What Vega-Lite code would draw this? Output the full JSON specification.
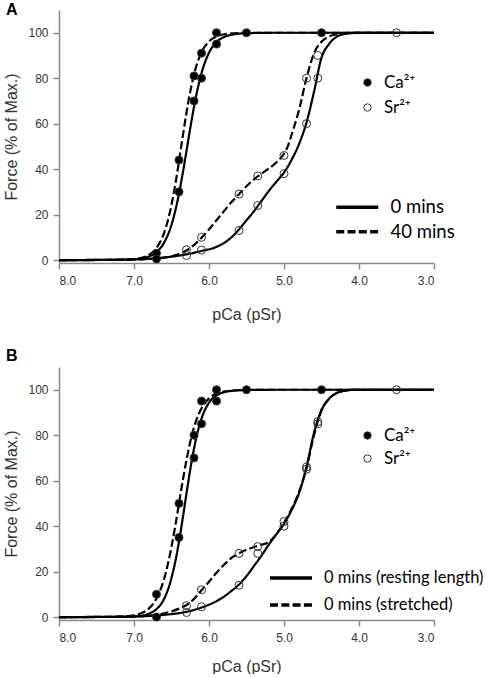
{
  "$schema": "https://vega.github.io/schema/vega-lite/v6.json",
  "background": "white",
  "padding": {"left": 3, "top": 2, "right": 0, "bottom": 0},
  "spacing": 26,
  "config": {
    "view": {"stroke": null},
    "axis": {
      "grid": false,
      "domainColor": "#8a8a8a",
      "domainWidth": 1.5,
      "tickColor": "#8a8a8a",
      "tickWidth": 1.5,
      "tickSize": 6,
      "labelFont": "Liberation Sans",
      "labelFontSize": 12,
      "labelColor": "#333333",
      "titleFont": "Liberation Sans",
      "titleFontSize": 16,
      "titleFontWeight": "normal",
      "titleColor": "#333333"
    },
    "axisX": {"labelPadding": 6, "titlePadding": 16},
    "axisY": {"labelPadding": 5, "titlePadding": 8},
    "legend": {"padding": 0, "titleLimit": 0}
  },
  "datasets": {
    "ptsA": [
      {"x": 6.7, "y": 3, "ion": "Ca²⁺"}, {"x": 6.7, "y": 0.5, "ion": "Ca²⁺"},
      {"x": 6.4, "y": 30, "ion": "Ca²⁺"}, {"x": 6.4, "y": 44, "ion": "Ca²⁺"},
      {"x": 6.2, "y": 70, "ion": "Ca²⁺"}, {"x": 6.2, "y": 81, "ion": "Ca²⁺"},
      {"x": 6.1, "y": 80, "ion": "Ca²⁺"}, {"x": 6.1, "y": 91, "ion": "Ca²⁺"},
      {"x": 5.9, "y": 95, "ion": "Ca²⁺"}, {"x": 5.9, "y": 100, "ion": "Ca²⁺"},
      {"x": 5.5, "y": 100, "ion": "Ca²⁺"}, {"x": 4.5, "y": 100, "ion": "Ca²⁺"},
      {"x": 6.3, "y": 4.5, "ion": "Sr²⁺"}, {"x": 6.3, "y": 2, "ion": "Sr²⁺"},
      {"x": 6.1, "y": 4.4, "ion": "Sr²⁺"}, {"x": 6.1, "y": 10, "ion": "Sr²⁺"},
      {"x": 5.6, "y": 29, "ion": "Sr²⁺"}, {"x": 5.6, "y": 13, "ion": "Sr²⁺"},
      {"x": 5.35, "y": 37, "ion": "Sr²⁺"}, {"x": 5.35, "y": 24, "ion": "Sr²⁺"},
      {"x": 5.0, "y": 46, "ion": "Sr²⁺"}, {"x": 5.0, "y": 38, "ion": "Sr²⁺"},
      {"x": 4.7, "y": 80, "ion": "Sr²⁺"}, {"x": 4.7, "y": 60, "ion": "Sr²⁺"},
      {"x": 4.55, "y": 90, "ion": "Sr²⁺"}, {"x": 4.55, "y": 80, "ion": "Sr²⁺"},
      {"x": 3.5, "y": 100, "ion": "Sr²⁺"}
    ],
    "curvesA": [
      {"x": 8.0, "y": 0, "ion": "Ca", "cond": "0 mins"},
      {"x": 7.5, "y": 0.01, "ion": "Ca", "cond": "0 mins"},
      {"x": 7.2, "y": 0.07, "ion": "Ca", "cond": "0 mins"},
      {"x": 7.0, "y": 0.33, "ion": "Ca", "cond": "0 mins"},
      {"x": 6.9, "y": 0.73, "ion": "Ca", "cond": "0 mins"},
      {"x": 6.8, "y": 1.6, "ion": "Ca", "cond": "0 mins"},
      {"x": 6.7, "y": 3.5, "ion": "Ca", "cond": "0 mins"},
      {"x": 6.6, "y": 7.6, "ion": "Ca", "cond": "0 mins"},
      {"x": 6.5, "y": 15.5, "ion": "Ca", "cond": "0 mins"},
      {"x": 6.45, "y": 21.6, "ion": "Ca", "cond": "0 mins"},
      {"x": 6.4, "y": 29.2, "ion": "Ca", "cond": "0 mins"},
      {"x": 6.35, "y": 38.2, "ion": "Ca", "cond": "0 mins"},
      {"x": 6.3, "y": 48, "ion": "Ca", "cond": "0 mins"},
      {"x": 6.25, "y": 58, "ion": "Ca", "cond": "0 mins"},
      {"x": 6.2, "y": 67.4, "ion": "Ca", "cond": "0 mins"},
      {"x": 6.15, "y": 75.5, "ion": "Ca", "cond": "0 mins"},
      {"x": 6.1, "y": 82.2, "ion": "Ca", "cond": "0 mins"},
      {"x": 6.0, "y": 91.2, "ion": "Ca", "cond": "0 mins"},
      {"x": 5.9, "y": 95.9, "ion": "Ca", "cond": "0 mins"},
      {"x": 5.8, "y": 98.1, "ion": "Ca", "cond": "0 mins"},
      {"x": 5.7, "y": 99.1, "ion": "Ca", "cond": "0 mins"},
      {"x": 5.6, "y": 99.6, "ion": "Ca", "cond": "0 mins"},
      {"x": 5.5, "y": 99.8, "ion": "Ca", "cond": "0 mins"},
      {"x": 5.0, "y": 100, "ion": "Ca", "cond": "0 mins"},
      {"x": 4.0, "y": 100, "ion": "Ca", "cond": "0 mins"},
      {"x": 3.0, "y": 100, "ion": "Ca", "cond": "0 mins"},
      {"x": 8.0, "y": 0, "ion": "Ca", "cond": "40 mins"},
      {"x": 7.5, "y": 0.01, "ion": "Ca", "cond": "40 mins"},
      {"x": 7.2, "y": 0.07, "ion": "Ca", "cond": "40 mins"},
      {"x": 7.0, "y": 0.4, "ion": "Ca", "cond": "40 mins"},
      {"x": 6.9, "y": 0.96, "ion": "Ca", "cond": "40 mins"},
      {"x": 6.8, "y": 2.3, "ion": "Ca", "cond": "40 mins"},
      {"x": 6.7, "y": 5.3, "ion": "Ca", "cond": "40 mins"},
      {"x": 6.6, "y": 11.8, "ion": "Ca", "cond": "40 mins"},
      {"x": 6.5, "y": 24.3, "ion": "Ca", "cond": "40 mins"},
      {"x": 6.45, "y": 33.2, "ion": "Ca", "cond": "40 mins"},
      {"x": 6.4, "y": 43.5, "ion": "Ca", "cond": "40 mins"},
      {"x": 6.35, "y": 54.4, "ion": "Ca", "cond": "40 mins"},
      {"x": 6.3, "y": 64.9, "ion": "Ca", "cond": "40 mins"},
      {"x": 6.25, "y": 74.1, "ion": "Ca", "cond": "40 mins"},
      {"x": 6.2, "y": 81.6, "ion": "Ca", "cond": "40 mins"},
      {"x": 6.15, "y": 87.3, "ion": "Ca", "cond": "40 mins"},
      {"x": 6.1, "y": 91.4, "ion": "Ca", "cond": "40 mins"},
      {"x": 6.0, "y": 96.2, "ion": "Ca", "cond": "40 mins"},
      {"x": 5.9, "y": 98.4, "ion": "Ca", "cond": "40 mins"},
      {"x": 5.8, "y": 99.3, "ion": "Ca", "cond": "40 mins"},
      {"x": 5.7, "y": 99.7, "ion": "Ca", "cond": "40 mins"},
      {"x": 5.6, "y": 99.9, "ion": "Ca", "cond": "40 mins"},
      {"x": 5.5, "y": 100, "ion": "Ca", "cond": "40 mins"},
      {"x": 5.0, "y": 100, "ion": "Ca", "cond": "40 mins"},
      {"x": 4.0, "y": 100, "ion": "Ca", "cond": "40 mins"},
      {"x": 3.0, "y": 100, "ion": "Ca", "cond": "40 mins"},
      {"x": 8.0, "y": 0, "ion": "Sr", "cond": "0 mins"},
      {"x": 7.5, "y": 0.05, "ion": "Sr", "cond": "0 mins"},
      {"x": 7.0, "y": 0.3, "ion": "Sr", "cond": "0 mins"},
      {"x": 6.7, "y": 0.8, "ion": "Sr", "cond": "0 mins"},
      {"x": 6.5, "y": 1.5, "ion": "Sr", "cond": "0 mins"},
      {"x": 6.3, "y": 2.5, "ion": "Sr", "cond": "0 mins"},
      {"x": 6.1, "y": 4, "ion": "Sr", "cond": "0 mins"},
      {"x": 5.9, "y": 5.8, "ion": "Sr", "cond": "0 mins"},
      {"x": 5.8, "y": 7.5, "ion": "Sr", "cond": "0 mins"},
      {"x": 5.7, "y": 10, "ion": "Sr", "cond": "0 mins"},
      {"x": 5.6, "y": 13.5, "ion": "Sr", "cond": "0 mins"},
      {"x": 5.5, "y": 17.5, "ion": "Sr", "cond": "0 mins"},
      {"x": 5.4, "y": 21.5, "ion": "Sr", "cond": "0 mins"},
      {"x": 5.3, "y": 26, "ion": "Sr", "cond": "0 mins"},
      {"x": 5.2, "y": 30.5, "ion": "Sr", "cond": "0 mins"},
      {"x": 5.1, "y": 34.5, "ion": "Sr", "cond": "0 mins"},
      {"x": 5.0, "y": 38.5, "ion": "Sr", "cond": "0 mins"},
      {"x": 4.9, "y": 44, "ion": "Sr", "cond": "0 mins"},
      {"x": 4.8, "y": 51, "ion": "Sr", "cond": "0 mins"},
      {"x": 4.7, "y": 60.5, "ion": "Sr", "cond": "0 mins"},
      {"x": 4.6, "y": 74, "ion": "Sr", "cond": "0 mins"},
      {"x": 4.5, "y": 89, "ion": "Sr", "cond": "0 mins"},
      {"x": 4.4, "y": 95, "ion": "Sr", "cond": "0 mins"},
      {"x": 4.3, "y": 98.2, "ion": "Sr", "cond": "0 mins"},
      {"x": 4.2, "y": 99.4, "ion": "Sr", "cond": "0 mins"},
      {"x": 4.1, "y": 99.8, "ion": "Sr", "cond": "0 mins"},
      {"x": 4.0, "y": 100, "ion": "Sr", "cond": "0 mins"},
      {"x": 3.0, "y": 100, "ion": "Sr", "cond": "0 mins"},
      {"x": 8.0, "y": 0, "ion": "Sr", "cond": "40 mins"},
      {"x": 7.5, "y": 0.05, "ion": "Sr", "cond": "40 mins"},
      {"x": 7.0, "y": 0.2, "ion": "Sr", "cond": "40 mins"},
      {"x": 6.7, "y": 0.7, "ion": "Sr", "cond": "40 mins"},
      {"x": 6.5, "y": 1.6, "ion": "Sr", "cond": "40 mins"},
      {"x": 6.4, "y": 2.6, "ion": "Sr", "cond": "40 mins"},
      {"x": 6.3, "y": 4.2, "ion": "Sr", "cond": "40 mins"},
      {"x": 6.2, "y": 6.6, "ion": "Sr", "cond": "40 mins"},
      {"x": 6.1, "y": 9.8, "ion": "Sr", "cond": "40 mins"},
      {"x": 6.0, "y": 13.5, "ion": "Sr", "cond": "40 mins"},
      {"x": 5.9, "y": 17.5, "ion": "Sr", "cond": "40 mins"},
      {"x": 5.8, "y": 21.5, "ion": "Sr", "cond": "40 mins"},
      {"x": 5.7, "y": 25.5, "ion": "Sr", "cond": "40 mins"},
      {"x": 5.6, "y": 29, "ion": "Sr", "cond": "40 mins"},
      {"x": 5.5, "y": 32.5, "ion": "Sr", "cond": "40 mins"},
      {"x": 5.4, "y": 35.5, "ion": "Sr", "cond": "40 mins"},
      {"x": 5.3, "y": 38, "ion": "Sr", "cond": "40 mins"},
      {"x": 5.2, "y": 40.3, "ion": "Sr", "cond": "40 mins"},
      {"x": 5.1, "y": 43, "ion": "Sr", "cond": "40 mins"},
      {"x": 5.0, "y": 46.8, "ion": "Sr", "cond": "40 mins"},
      {"x": 4.95, "y": 50, "ion": "Sr", "cond": "40 mins"},
      {"x": 4.9, "y": 55, "ion": "Sr", "cond": "40 mins"},
      {"x": 4.8, "y": 66, "ion": "Sr", "cond": "40 mins"},
      {"x": 4.7, "y": 80, "ion": "Sr", "cond": "40 mins"},
      {"x": 4.6, "y": 91, "ion": "Sr", "cond": "40 mins"},
      {"x": 4.5, "y": 96, "ion": "Sr", "cond": "40 mins"},
      {"x": 4.4, "y": 98.3, "ion": "Sr", "cond": "40 mins"},
      {"x": 4.3, "y": 99.3, "ion": "Sr", "cond": "40 mins"},
      {"x": 4.2, "y": 99.8, "ion": "Sr", "cond": "40 mins"},
      {"x": 4.1, "y": 100, "ion": "Sr", "cond": "40 mins"},
      {"x": 3.0, "y": 100, "ion": "Sr", "cond": "40 mins"}
    ],
    "ptsB": [
      {"x": 6.7, "y": 10, "ion": "Ca²⁺"}, {"x": 6.7, "y": 0, "ion": "Ca²⁺"},
      {"x": 6.4, "y": 50, "ion": "Ca²⁺"}, {"x": 6.4, "y": 35, "ion": "Ca²⁺"},
      {"x": 6.2, "y": 80, "ion": "Ca²⁺"}, {"x": 6.2, "y": 70, "ion": "Ca²⁺"},
      {"x": 6.1, "y": 95, "ion": "Ca²⁺"}, {"x": 6.1, "y": 85, "ion": "Ca²⁺"},
      {"x": 5.9, "y": 100, "ion": "Ca²⁺"}, {"x": 5.9, "y": 95, "ion": "Ca²⁺"},
      {"x": 5.5, "y": 100, "ion": "Ca²⁺"}, {"x": 4.5, "y": 100, "ion": "Ca²⁺"},
      {"x": 6.3, "y": 5, "ion": "Sr²⁺"}, {"x": 6.3, "y": 2, "ion": "Sr²⁺"},
      {"x": 6.1, "y": 12, "ion": "Sr²⁺"}, {"x": 6.1, "y": 4.5, "ion": "Sr²⁺"},
      {"x": 5.6, "y": 28, "ion": "Sr²⁺"}, {"x": 5.6, "y": 14, "ion": "Sr²⁺"},
      {"x": 5.35, "y": 31, "ion": "Sr²⁺"}, {"x": 5.35, "y": 28, "ion": "Sr²⁺"},
      {"x": 5.0, "y": 42, "ion": "Sr²⁺"}, {"x": 5.0, "y": 40, "ion": "Sr²⁺"},
      {"x": 4.7, "y": 66, "ion": "Sr²⁺"}, {"x": 4.7, "y": 65, "ion": "Sr²⁺"},
      {"x": 4.55, "y": 86, "ion": "Sr²⁺"}, {"x": 4.55, "y": 85, "ion": "Sr²⁺"},
      {"x": 3.5, "y": 100, "ion": "Sr²⁺"}
    ],
    "curvesB": [
      {"x": 8.0, "y": 0, "ion": "Ca", "cond": "0 mins (resting length)"},
      {"x": 7.5, "y": 0.01, "ion": "Ca", "cond": "0 mins (resting length)"},
      {"x": 7.2, "y": 0.05, "ion": "Ca", "cond": "0 mins (resting length)"},
      {"x": 7.0, "y": 0.26, "ion": "Ca", "cond": "0 mins (resting length)"},
      {"x": 6.9, "y": 0.62, "ion": "Ca", "cond": "0 mins (resting length)"},
      {"x": 6.8, "y": 1.5, "ion": "Ca", "cond": "0 mins (resting length)"},
      {"x": 6.7, "y": 3.5, "ion": "Ca", "cond": "0 mins (resting length)"},
      {"x": 6.6, "y": 7.9, "ion": "Ca", "cond": "0 mins (resting length)"},
      {"x": 6.5, "y": 17.2, "ion": "Ca", "cond": "0 mins (resting length)"},
      {"x": 6.45, "y": 24.3, "ion": "Ca", "cond": "0 mins (resting length)"},
      {"x": 6.4, "y": 33.2, "ion": "Ca", "cond": "0 mins (resting length)"},
      {"x": 6.35, "y": 43.5, "ion": "Ca", "cond": "0 mins (resting length)"},
      {"x": 6.3, "y": 54.4, "ion": "Ca", "cond": "0 mins (resting length)"},
      {"x": 6.25, "y": 64.9, "ion": "Ca", "cond": "0 mins (resting length)"},
      {"x": 6.2, "y": 74.1, "ion": "Ca", "cond": "0 mins (resting length)"},
      {"x": 6.15, "y": 81.6, "ion": "Ca", "cond": "0 mins (resting length)"},
      {"x": 6.1, "y": 87.3, "ion": "Ca", "cond": "0 mins (resting length)"},
      {"x": 6.0, "y": 94.3, "ion": "Ca", "cond": "0 mins (resting length)"},
      {"x": 5.9, "y": 97.5, "ion": "Ca", "cond": "0 mins (resting length)"},
      {"x": 5.8, "y": 98.9, "ion": "Ca", "cond": "0 mins (resting length)"},
      {"x": 5.7, "y": 99.5, "ion": "Ca", "cond": "0 mins (resting length)"},
      {"x": 5.6, "y": 99.8, "ion": "Ca", "cond": "0 mins (resting length)"},
      {"x": 5.5, "y": 99.9, "ion": "Ca", "cond": "0 mins (resting length)"},
      {"x": 5.0, "y": 100, "ion": "Ca", "cond": "0 mins (resting length)"},
      {"x": 4.0, "y": 100, "ion": "Ca", "cond": "0 mins (resting length)"},
      {"x": 3.0, "y": 100, "ion": "Ca", "cond": "0 mins (resting length)"},
      {"x": 8.0, "y": 0, "ion": "Ca", "cond": "0 mins (stretched)"},
      {"x": 7.5, "y": 0.01, "ion": "Ca", "cond": "0 mins (stretched)"},
      {"x": 7.2, "y": 0.16, "ion": "Ca", "cond": "0 mins (stretched)"},
      {"x": 7.0, "y": 0.79, "ion": "Ca", "cond": "0 mins (stretched)"},
      {"x": 6.9, "y": 1.75, "ion": "Ca", "cond": "0 mins (stretched)"},
      {"x": 6.8, "y": 3.8, "ion": "Ca", "cond": "0 mins (stretched)"},
      {"x": 6.7, "y": 8.2, "ion": "Ca", "cond": "0 mins (stretched)"},
      {"x": 6.6, "y": 16.6, "ion": "Ca", "cond": "0 mins (stretched)"},
      {"x": 6.5, "y": 30.9, "ion": "Ca", "cond": "0 mins (stretched)"},
      {"x": 6.45, "y": 40, "ion": "Ca", "cond": "0 mins (stretched)"},
      {"x": 6.4, "y": 50, "ion": "Ca", "cond": "0 mins (stretched)"},
      {"x": 6.35, "y": 60, "ion": "Ca", "cond": "0 mins (stretched)"},
      {"x": 6.3, "y": 69.1, "ion": "Ca", "cond": "0 mins (stretched)"},
      {"x": 6.25, "y": 77, "ion": "Ca", "cond": "0 mins (stretched)"},
      {"x": 6.2, "y": 83.4, "ion": "Ca", "cond": "0 mins (stretched)"},
      {"x": 6.15, "y": 88.3, "ion": "Ca", "cond": "0 mins (stretched)"},
      {"x": 6.1, "y": 91.8, "ion": "Ca", "cond": "0 mins (stretched)"},
      {"x": 6.0, "y": 96.2, "ion": "Ca", "cond": "0 mins (stretched)"},
      {"x": 5.9, "y": 98.3, "ion": "Ca", "cond": "0 mins (stretched)"},
      {"x": 5.8, "y": 99.2, "ion": "Ca", "cond": "0 mins (stretched)"},
      {"x": 5.7, "y": 99.6, "ion": "Ca", "cond": "0 mins (stretched)"},
      {"x": 5.6, "y": 99.8, "ion": "Ca", "cond": "0 mins (stretched)"},
      {"x": 5.5, "y": 99.9, "ion": "Ca", "cond": "0 mins (stretched)"},
      {"x": 5.0, "y": 100, "ion": "Ca", "cond": "0 mins (stretched)"},
      {"x": 4.0, "y": 100, "ion": "Ca", "cond": "0 mins (stretched)"},
      {"x": 3.0, "y": 100, "ion": "Ca", "cond": "0 mins (stretched)"},
      {"x": 8.0, "y": 0, "ion": "Sr", "cond": "0 mins (resting length)"},
      {"x": 7.5, "y": 0.05, "ion": "Sr", "cond": "0 mins (resting length)"},
      {"x": 7.0, "y": 0.2, "ion": "Sr", "cond": "0 mins (resting length)"},
      {"x": 6.7, "y": 0.7, "ion": "Sr", "cond": "0 mins (resting length)"},
      {"x": 6.5, "y": 1.3, "ion": "Sr", "cond": "0 mins (resting length)"},
      {"x": 6.3, "y": 2.3, "ion": "Sr", "cond": "0 mins (resting length)"},
      {"x": 6.1, "y": 4.2, "ion": "Sr", "cond": "0 mins (resting length)"},
      {"x": 5.9, "y": 7, "ion": "Sr", "cond": "0 mins (resting length)"},
      {"x": 5.8, "y": 9, "ion": "Sr", "cond": "0 mins (resting length)"},
      {"x": 5.7, "y": 11.5, "ion": "Sr", "cond": "0 mins (resting length)"},
      {"x": 5.6, "y": 14.3, "ion": "Sr", "cond": "0 mins (resting length)"},
      {"x": 5.5, "y": 18, "ion": "Sr", "cond": "0 mins (resting length)"},
      {"x": 5.4, "y": 22.5, "ion": "Sr", "cond": "0 mins (resting length)"},
      {"x": 5.3, "y": 27, "ion": "Sr", "cond": "0 mins (resting length)"},
      {"x": 5.2, "y": 32, "ion": "Sr", "cond": "0 mins (resting length)"},
      {"x": 5.1, "y": 36.5, "ion": "Sr", "cond": "0 mins (resting length)"},
      {"x": 5.0, "y": 41, "ion": "Sr", "cond": "0 mins (resting length)"},
      {"x": 4.9, "y": 47, "ion": "Sr", "cond": "0 mins (resting length)"},
      {"x": 4.8, "y": 54.5, "ion": "Sr", "cond": "0 mins (resting length)"},
      {"x": 4.7, "y": 66, "ion": "Sr", "cond": "0 mins (resting length)"},
      {"x": 4.6, "y": 81, "ion": "Sr", "cond": "0 mins (resting length)"},
      {"x": 4.5, "y": 91, "ion": "Sr", "cond": "0 mins (resting length)"},
      {"x": 4.4, "y": 96, "ion": "Sr", "cond": "0 mins (resting length)"},
      {"x": 4.3, "y": 98.5, "ion": "Sr", "cond": "0 mins (resting length)"},
      {"x": 4.2, "y": 99.5, "ion": "Sr", "cond": "0 mins (resting length)"},
      {"x": 4.1, "y": 99.9, "ion": "Sr", "cond": "0 mins (resting length)"},
      {"x": 4.0, "y": 100, "ion": "Sr", "cond": "0 mins (resting length)"},
      {"x": 3.0, "y": 100, "ion": "Sr", "cond": "0 mins (resting length)"},
      {"x": 8.0, "y": 0, "ion": "Sr", "cond": "0 mins (stretched)"},
      {"x": 7.5, "y": 0.05, "ion": "Sr", "cond": "0 mins (stretched)"},
      {"x": 7.0, "y": 0.3, "ion": "Sr", "cond": "0 mins (stretched)"},
      {"x": 6.7, "y": 1, "ion": "Sr", "cond": "0 mins (stretched)"},
      {"x": 6.5, "y": 2.5, "ion": "Sr", "cond": "0 mins (stretched)"},
      {"x": 6.4, "y": 3.7, "ion": "Sr", "cond": "0 mins (stretched)"},
      {"x": 6.3, "y": 5.3, "ion": "Sr", "cond": "0 mins (stretched)"},
      {"x": 6.2, "y": 8, "ion": "Sr", "cond": "0 mins (stretched)"},
      {"x": 6.1, "y": 11.8, "ion": "Sr", "cond": "0 mins (stretched)"},
      {"x": 6.0, "y": 15.5, "ion": "Sr", "cond": "0 mins (stretched)"},
      {"x": 5.9, "y": 19.5, "ion": "Sr", "cond": "0 mins (stretched)"},
      {"x": 5.8, "y": 23, "ion": "Sr", "cond": "0 mins (stretched)"},
      {"x": 5.7, "y": 26, "ion": "Sr", "cond": "0 mins (stretched)"},
      {"x": 5.6, "y": 28, "ion": "Sr", "cond": "0 mins (stretched)"},
      {"x": 5.5, "y": 29.6, "ion": "Sr", "cond": "0 mins (stretched)"},
      {"x": 5.4, "y": 30.8, "ion": "Sr", "cond": "0 mins (stretched)"},
      {"x": 5.3, "y": 31.8, "ion": "Sr", "cond": "0 mins (stretched)"},
      {"x": 5.2, "y": 33, "ion": "Sr", "cond": "0 mins (stretched)"},
      {"x": 5.1, "y": 36.5, "ion": "Sr", "cond": "0 mins (stretched)"},
      {"x": 5.0, "y": 41.5, "ion": "Sr", "cond": "0 mins (stretched)"},
      {"x": 4.9, "y": 47.5, "ion": "Sr", "cond": "0 mins (stretched)"},
      {"x": 4.8, "y": 55, "ion": "Sr", "cond": "0 mins (stretched)"},
      {"x": 4.7, "y": 65.5, "ion": "Sr", "cond": "0 mins (stretched)"},
      {"x": 4.6, "y": 80, "ion": "Sr", "cond": "0 mins (stretched)"},
      {"x": 4.5, "y": 91, "ion": "Sr", "cond": "0 mins (stretched)"},
      {"x": 4.4, "y": 96, "ion": "Sr", "cond": "0 mins (stretched)"},
      {"x": 4.3, "y": 98.5, "ion": "Sr", "cond": "0 mins (stretched)"},
      {"x": 4.2, "y": 99.5, "ion": "Sr", "cond": "0 mins (stretched)"},
      {"x": 4.1, "y": 99.9, "ion": "Sr", "cond": "0 mins (stretched)"},
      {"x": 4.0, "y": 100, "ion": "Sr", "cond": "0 mins (stretched)"},
      {"x": 3.0, "y": 100, "ion": "Sr", "cond": "0 mins (stretched)"}
    ]
  },
  "resolve": {
    "scale": {"fill": "independent", "strokeDash": "independent"},
    "legend": {"fill": "independent", "strokeDash": "independent"}
  },
  "vconcat": [
    {
      "width": 375,
      "height": 253,
      "title": {"text": "A", "anchor": "start", "frame": "group", "font": "Liberation Sans", "fontSize": 16, "fontWeight": "bold", "color": "black", "dx": -53, "offset": -8},
      "layer": [
        {
          "data": {"name": "curvesA"},
          "mark": {"type": "line", "interpolate": "monotone", "color": "black", "strokeWidth": 2.2},
          "encoding": {
            "x": {"field": "x", "type": "quantitative", "scale": {"domain": [3, 8], "reverse": true, "nice": false, "zero": false}, "axis": {"title": "pCa (pSr)", "values": [8, 7.5, 7, 6.5, 6, 5.5, 5, 4.5, 4, 3.5, 3], "format": ".1f", "titlePadding": 20}},
            "y": {"field": "y", "type": "quantitative", "scale": {"domain": [-1.3, 110], "nice": false, "zero": false}, "axis": {"title": "Force (% of Max.)", "values": [0, 20, 40, 60, 80, 100]}},
            "detail": {"field": "ion"},
            "strokeDash": {"field": "cond", "type": "nominal", "scale": {"domain": ["0 mins", "40 mins"], "range": [[1, 0], [8, 3.3]]},
              "legend": {"orient": "none", "legendX": 289, "legendY": 188, "title": null, "symbolType": "M-3,0H3", "symbolSize": 196, "symbolStrokeWidth": 3.5, "symbolStrokeColor": "black", "symbolFillColor": "transparent", "labelFont": "Lato", "labelFontSize": 18.5, "labelColor": "black", "labelOffset": 24, "rowPadding": 5.5, "labelLimit": 0}}
          }
        },
        {
          "data": {"name": "ptsA"},
          "mark": {"type": "point", "shape": "circle", "size": 64, "stroke": "#333333", "strokeWidth": 1, "opacity": 1},
          "encoding": {
            "x": {"field": "x", "type": "quantitative"},
            "y": {"field": "y", "type": "quantitative"},
            "fill": {"field": "ion", "type": "nominal", "scale": {"domain": ["Ca²⁺", "Sr²⁺"], "range": ["black", "transparent"]},
              "legend": {"orient": "none", "legendX": 300, "legendY": 64, "title": null, "symbolType": "circle", "symbolSize": 55, "symbolStrokeColor": "#333333", "symbolStrokeWidth": 1, "labelFont": "Lato", "labelFontSize": 17, "labelColor": "black", "labelOffset": 8, "rowPadding": 7}}
          }
        }
      ]
    },
    {
      "width": 375,
      "height": 253,
      "title": {"text": "B", "anchor": "start", "frame": "group", "font": "Liberation Sans", "fontSize": 16, "fontWeight": "bold", "color": "black", "dx": -53, "offset": 3},
      "layer": [
        {
          "data": {"name": "curvesB"},
          "mark": {"type": "line", "interpolate": "monotone", "color": "black", "strokeWidth": 2.2},
          "encoding": {
            "x": {"field": "x", "type": "quantitative", "scale": {"domain": [3, 8], "reverse": true, "nice": false, "zero": false}, "axis": {"title": "pCa (pSr)", "values": [8, 7.5, 7, 6.5, 6, 5.5, 5, 4.5, 4, 3.5, 3], "format": ".1f", "titlePadding": 15}},
            "y": {"field": "y", "type": "quantitative", "scale": {"domain": [-1.3, 110], "nice": false, "zero": false}, "axis": {"title": "Force (% of Max.)", "values": [0, 20, 40, 60, 80, 100]}},
            "detail": {"field": "ion"},
            "strokeDash": {"field": "cond", "type": "nominal", "scale": {"domain": ["0 mins (resting length)", "0 mins (stretched)"], "range": [[1, 0], [8, 3.3]]},
              "legend": {"orient": "none", "legendX": 223, "legendY": 202, "title": null, "symbolType": "M-3,0H3", "symbolSize": 196, "symbolStrokeWidth": 3.5, "symbolStrokeColor": "black", "symbolFillColor": "transparent", "labelFont": "Lato", "labelFontSize": 16.5, "labelColor": "black", "labelOffset": 24, "rowPadding": 9, "labelLimit": 0}}
          }
        },
        {
          "data": {"name": "ptsB"},
          "mark": {"type": "point", "shape": "circle", "size": 64, "stroke": "#333333", "strokeWidth": 1, "opacity": 1},
          "encoding": {
            "x": {"field": "x", "type": "quantitative"},
            "y": {"field": "y", "type": "quantitative"},
            "fill": {"field": "ion", "type": "nominal", "scale": {"domain": ["Ca²⁺", "Sr²⁺"], "range": ["black", "transparent"]},
              "legend": {"orient": "none", "legendX": 300, "legendY": 60, "title": null, "symbolType": "circle", "symbolSize": 55, "symbolStrokeColor": "#333333", "symbolStrokeWidth": 1, "labelFont": "Lato", "labelFontSize": 17, "labelColor": "black", "labelOffset": 8, "rowPadding": 5}}
          }
        }
      ]
    }
  ]
}
